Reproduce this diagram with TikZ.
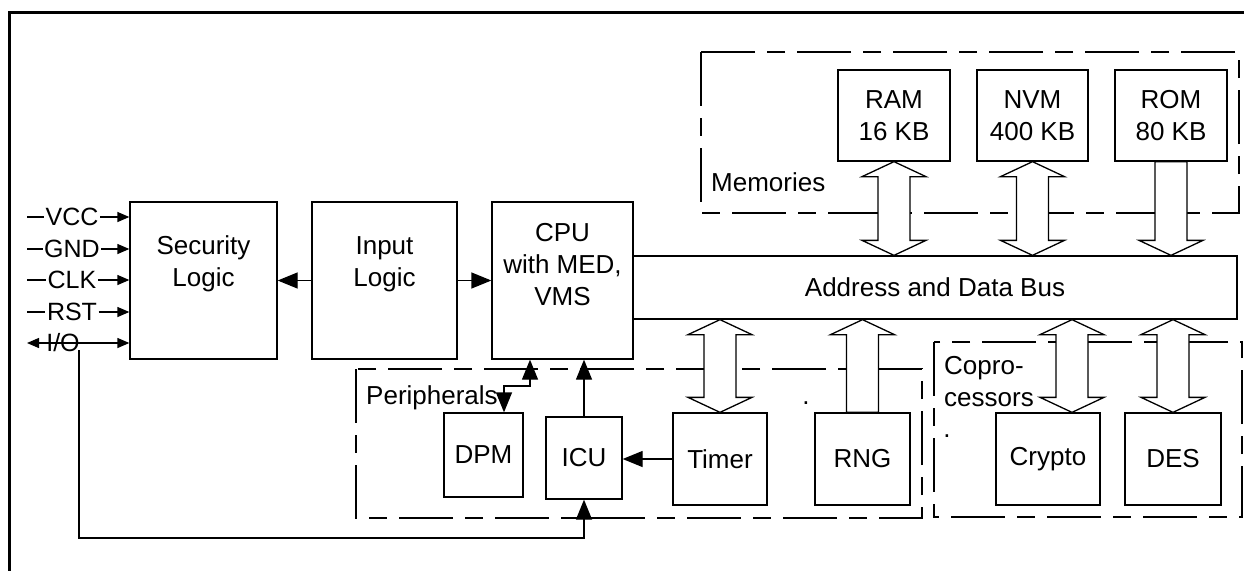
\documentclass[tikz,border=0pt]{standalone}
\usepackage{fontspec}
\setmainfont{Liberation Sans}
\usetikzlibrary{arrows.meta,calc}

\tikzset{
	block/.style={draw,rectangle,line width=1.3pt,inner sep=0pt,align=center,font=\fontsize{26}{32}\selectfont},
	txt/.style={inner sep=0pt,align=center,font=\fontsize{26}{32}\selectfont},
	sig/.style={inner sep=1.5pt,font=\fontsize{25}{30}\selectfont},
	group/.style={draw,line width=2.6pt,dash pattern=on 54pt off 12pt on 18pt off 12pt},
	conn/.style={line width=1.3pt,-{Triangle[length=20pt,width=16pt]}},
	pin/.style={line width=1.3pt,-{Triangle[length=12pt,width=10pt]}},
	hollow/.style={line width=1.3pt,fill=white}
}

\newcommand\busdbl[2]{\draw[hollow] let \p1=(#1), \p2=(#2) in
	(\x1,\y1) -- (\x1+32pt,\y1-15pt) -- (\x1+16pt,\y1-15pt) -- (\x1+16pt,\y2+15pt)
	-- (\x1+32pt,\y2+15pt) -- (\x1,\y2) -- (\x1-32pt,\y2+15pt) -- (\x1-16pt,\y2+15pt)
	-- (\x1-16pt,\y1-15pt) -- (\x1-32pt,\y1-15pt) -- cycle;}
\newcommand\busup[2]{\draw[hollow] let \p1=(#1), \p2=(#2) in
	(\x1,\y1) -- (\x1+32pt,\y1-15pt) -- (\x1+16pt,\y1-15pt) -- (\x1+16pt,\y2)
	-- (\x1-16pt,\y2) -- (\x1-16pt,\y1-15pt) -- (\x1-32pt,\y1-15pt) -- cycle;}
\newcommand\busdown[2]{\draw[hollow] let \p1=(#1), \p2=(#2) in
	(\x1-16pt,\y1) -- (\x1-16pt,\y2+15pt) -- (\x1-32pt,\y2+15pt) -- (\x1,\y2)
	-- (\x1+32pt,\y2+15pt) -- (\x1+16pt,\y2+15pt) -- (\x1+16pt,\y1) -- cycle;}

\begin{document}
\begin{tikzpicture}[x=1pt,y=-1pt]
		\useasboundingbox (0,0) rectangle (1244,571);
		\draw[line width=3pt] (1244,12) -- (9,12) -- (9,571);

		\draw[group] (701,52) rectangle (1239,213);
		\draw[group] (356,369) rectangle (922,518);
		\draw[group] (934,342) rectangle (1242,517);
		\draw (711,191) node [txt,anchor=base west] (memt){Memories};
		\draw (366,404) node [txt,anchor=base west] (perit){Peripherals};
		\draw (944,406) node [txt,anchor=base west,align=left] (copt){Copro-\\cessors};
		\draw (806,404) node [txt,anchor=base] (dot1){.};
		\draw (947,437) node [txt,anchor=base] (dot2){.};

		\draw (203.5,280.5) node [block,minimum width=147pt,minimum height=157pt] (sec){};
		\draw (384.5,280.5) node [block,minimum width=145pt,minimum height=157pt] (inp){};
		\draw (562.5,280.5) node [block,minimum width=141pt,minimum height=157pt] (cpu){};
		\draw (203.5,264) node [txt] (sect){Security\\Logic};
		\draw (384.5,264) node [txt] (inpt){Input\\Logic};
		\draw (562.5,264.5) node [txt] (cput){CPU\\with MED,\\VMS};
		\draw (935,287.5) node [block,minimum width=604pt,minimum height=63pt] (bus){Address and Data Bus};

		\draw (894,115.5) node [block,minimum width=112pt,minimum height=91pt] (ram){RAM\\16 KB};
		\draw (1032.5,115.5) node [block,minimum width=111pt,minimum height=91pt] (nvm){NVM\\400 KB};
		\draw (1171,115.5) node [block,minimum width=112pt,minimum height=91pt] (rom){ROM\\80 KB};

		\draw (483.5,455) node [block,minimum width=79pt,minimum height=84pt] (dpm){DPM};
		\draw (584,458) node [block,minimum width=76pt,minimum height=82pt] (icu){ICU};
		\draw (720,459) node [block,minimum width=94pt,minimum height=92pt] (timer){Timer};
		\draw (862.5,459) node [block,minimum width=95pt,minimum height=92pt] (rng){RNG};
		\draw (1048,459) node [block,minimum width=104pt,minimum height=92pt] (crypto){Crypto};
		\draw (1173,459) node [block,minimum width=96pt,minimum height=92pt] (des){DES};

		\foreach \n/\t/\y in {vcc/VCC/217,gnd/GND/249,clk/CLK/280,rst/RST/312}{
			\draw (72,\y) node [sig] (\n){\t};
			\draw[line width=1.3pt] (27,\y) -- (\n.west);
			\draw[pin] (\n.east) -- (\n -| sec.west);
		}
		\draw (63,343) node [sig] (io){I/O};
		\draw[pin,{Triangle[length=12pt,width=10pt]}-{Triangle[length=12pt,width=10pt]}] (27,343) -- (io -| sec.west);

		\coordinate (iotap) at (79,350);
		\coordinate (fb) at (79,538);
		\coordinate (zz) at (530,386);
		\coordinate (cryptotap) at ([xshift=24pt]crypto.north);

		\draw[conn] (inp.west) -- (sec.east);
		\draw[conn] (inp.east) -- (cpu.west);
		\draw[conn] (icu.north) -- (icu.north |- cpu.south);
		\draw[conn] (timer.west) -- (timer.west -| icu.east);
		\draw[conn] (iotap) -- (fb) -| (icu.south);
		\draw[conn,{Triangle[length=20pt,width=16pt]}-{Triangle[length=20pt,width=16pt]}]
			([xshift=20.5pt]dpm.north) |- (zz) -- (zz |- cpu.south);

		\busdbl{ram.south}{ram.south |- bus.north}
		\busdbl{nvm.south}{nvm.south |- bus.north}
		\busdown{rom.south}{rom.south |- bus.north}
		\busdbl{timer.north |- bus.south}{timer.north}
		\busup{rng.north |- bus.south}{rng.north}
		\busdbl{cryptotap |- bus.south}{cryptotap}
		\busdbl{des.north |- bus.south}{des.north}
	\end{tikzpicture}
\end{document}
